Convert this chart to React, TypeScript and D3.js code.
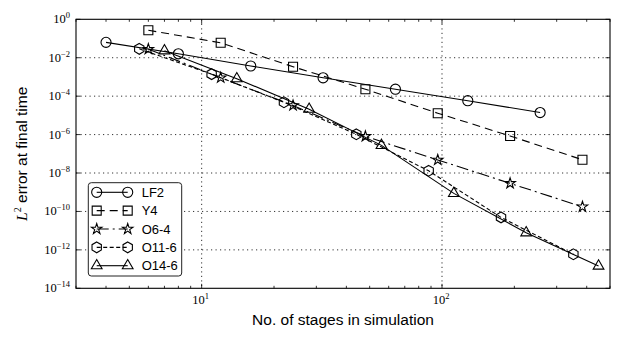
import { useEffect, useRef } from 'react'
import * as d3 from 'd3'

// stages vs. L2 error
const lf2Stages = [4, 8, 16, 32, 64, 128, 256]
const lf2Error = [6.3e-2, 1.6e-2, 3.7e-3, 9.0e-4, 2.3e-4, 5.8e-5, 1.4e-5]

const y4Stages = [6, 12, 24, 48, 96, 192, 384]
const y4Error = [2.7e-1, 6.0e-2, 3.4e-3, 2.3e-4, 1.3e-5, 8.5e-7, 4.9e-8]

const o64Stages = [6, 12, 24, 48, 96, 192, 384]
const o64Error = [2.8e-2, 9.1e-4, 3.3e-5, 8.1e-7, 4.8e-8, 2.9e-9, 1.75e-10]

const o116Stages = [5.5, 11, 22, 44, 88, 176, 352]
const o116Error = [2.9e-2, 1.4e-3, 4.8e-5, 1.03e-6, 1.3e-8, 4.9e-11, 5.9e-13]

const o146Stages = [7, 14, 28, 56, 112, 224, 448]
const o146Error = [2.3e-2, 8.1e-4, 2.1e-5, 2.75e-7, 8.7e-10, 7.8e-12, 1.44e-13]

const seriesNames = ['LF2', 'Y4', 'O6-4', 'O11-6', 'O14-6']
const yTickExponents = [0, -2, -4, -6, -8, -10, -12, -14]
const xTickExponents = [1, 2]

type Pt = { x: number; y: number }

export default function App() {
  const ref = useRef<SVGSVGElement>(null)

  useEffect(() => {
    const svg = d3.select(ref.current)
    svg.selectAll('*').remove()

    const left = 76, right = 610, top = 19.3, bottom = 288.3

    const x = d3.scaleLog().domain([3, 500]).range([left, right])
    const y = d3.scaleLog().domain([1e-14, 1]).range([bottom, top])

    const zip = (xs: number[], ys: number[]): Pt[] => xs.map((v, i) => ({ x: v, y: ys[i] }))

    const hexPath = (r: number) => {
      const pts = d3.range(6).map(i => {
        const a = -Math.PI / 2 + i * Math.PI / 3
        return [r * Math.cos(a), r * Math.sin(a)]
      })
      return 'M' + pts.map(p => p.join(',')).join('L') + 'Z'
    }

    const markers: Record<string, string> = {
      circle: d3.symbol(d3.symbolCircle, 80)()!,
      square: d3.symbol(d3.symbolSquare, 81)()!,
      star: d3.symbol(d3.symbolStar, 34)()!,
      hex: hexPath(5.4),
      triangle: d3.symbol(d3.symbolTriangle, 50)()!,
    }

    const series = [
      { name: seriesNames[0], data: zip(lf2Stages, lf2Error), dash: null, marker: 'circle' },
      { name: seriesNames[1], data: zip(y4Stages, y4Error), dash: '8,5', marker: 'square' },
      { name: seriesNames[2], data: zip(o64Stages, o64Error), dash: '12,4,2,4', marker: 'star' },
      { name: seriesNames[3], data: zip(o116Stages, o116Error), dash: '4,2.5', marker: 'hex' },
      { name: seriesNames[4], data: zip(o146Stages, o146Error), dash: null, marker: 'triangle' },
    ]

    svg.append('rect').attr('width', 624).attr('height', 343).attr('fill', '#fff')

    // grid
    const grid = svg.append('g')
      .attr('stroke', '#333')
      .attr('stroke-width', 1)
      .attr('stroke-dasharray', '1.2,3.3')
    yTickExponents.slice(1, -1).forEach(e => {
      grid.append('line')
        .attr('x1', left).attr('x2', right)
        .attr('y1', y(10 ** e)).attr('y2', y(10 ** e))
    })
    xTickExponents.forEach(e => {
      grid.append('line')
        .attr('x1', x(10 ** e)).attr('x2', x(10 ** e))
        .attr('y1', top).attr('y2', bottom)
    })

    // ticks (inward)
    const ticks = svg.append('g').attr('stroke', '#000').attr('stroke-width', 0.8)
    x.ticks().forEach(t => {
      const major = Math.abs(Math.log10(t) - Math.round(Math.log10(t))) < 1e-9
      const len = major ? 4.5 : 2.5
      ticks.append('line').attr('x1', x(t)).attr('x2', x(t)).attr('y1', bottom).attr('y2', bottom - len)
      ticks.append('line').attr('x1', x(t)).attr('x2', x(t)).attr('y1', top).attr('y2', top + len)
    })
    yTickExponents.forEach(e => {
      ticks.append('line').attr('x1', left).attr('x2', left + 4.5).attr('y1', y(10 ** e)).attr('y2', y(10 ** e))
      ticks.append('line').attr('x1', right).attr('x2', right - 4.5).attr('y1', y(10 ** e)).attr('y2', y(10 ** e))
    })

    // series
    const line = d3.line<Pt>().x(d => x(d.x)).y(d => y(d.y))
    series.forEach(s => {
      const g = svg.append('g')
      g.append('path')
        .attr('d', line(s.data))
        .attr('fill', 'none')
        .attr('stroke', '#000')
        .attr('stroke-width', 1.1)
        .attr('stroke-dasharray', s.dash)
      g.selectAll('path.m')
        .data(s.data)
        .enter().append('path')
        .attr('class', 'm')
        .attr('d', markers[s.marker])
        .attr('transform', d => `translate(${x(d.x)},${y(d.y)})`)
        .attr('fill', 'none')
        .attr('stroke', '#000')
        .attr('stroke-width', 1.1)
    })

    // frame
    svg.append('rect')
      .attr('x', left).attr('y', top)
      .attr('width', right - left).attr('height', bottom - top)
      .attr('fill', 'none').attr('stroke', '#000').attr('stroke-width', 1.1)

    // tick labels
    const serif = '"Liberation Serif", "DejaVu Serif", serif'
    yTickExponents.forEach(e => {
      const t = svg.append('text')
        .attr('x', 70).attr('y', y(10 ** e) + 4)
        .attr('text-anchor', 'end')
        .attr('font-family', serif).attr('font-size', 12.5)
      t.append('tspan').text('10')
      t.append('tspan').attr('dy', -5).attr('font-size', 8.5).text(e === 0 ? '0' : '\u2212' + -e)
    })
    xTickExponents.forEach(e => {
      const t = svg.append('text')
        .attr('x', x(10 ** e) - 1).attr('y', 304)
        .attr('text-anchor', 'middle')
        .attr('font-family', serif).attr('font-size', 12.5)
      t.append('tspan').text('10')
      t.append('tspan').attr('dy', -5).attr('font-size', 8.5).text(String(e))
    })

    // axis titles
    const sans = '"Liberation Sans", Arial, sans-serif'
    svg.append('text')
      .attr('x', 343).attr('y', 325)
      .attr('text-anchor', 'middle')
      .attr('font-family', sans).attr('font-size', 15.5)
      .text('No. of stages in simulation')

    const yl = svg.append('text')
      .attr('transform', `translate(27,${(top + bottom) / 2}) rotate(-90)`)
      .attr('text-anchor', 'middle')
      .attr('font-family', sans).attr('font-size', 15.5)
    yl.append('tspan').attr('font-family', serif).attr('font-style', 'italic').text('L')
    yl.append('tspan').attr('font-family', serif).attr('font-size', 10).attr('dy', -6).text('2')
    yl.append('tspan').attr('dy', 6).text(' error at final time')

    // legend
    const lg = svg.append('g')
    lg.append('rect')
      .attr('x', 88.3).attr('y', 182.7)
      .attr('width', 93.4).attr('height', 93.3)
      .attr('rx', 3)
      .attr('fill', '#fff').attr('stroke', '#222').attr('stroke-width', 1)
    series.forEach((s, i) => {
      const cy = 192.3 + i * 18.35
      lg.append('line')
        .attr('x1', 96.7).attr('x2', 127.7).attr('y1', cy).attr('y2', cy)
        .attr('stroke', '#000').attr('stroke-width', 1.1)
        .attr('stroke-dasharray', s.dash)
      ;[96.7, 127.7].forEach(mx => {
        lg.append('path')
          .attr('d', markers[s.marker])
          .attr('transform', `translate(${mx},${cy})`)
          .attr('fill', 'none').attr('stroke', '#000').attr('stroke-width', 1.1)
      })
      lg.append('text')
        .attr('x', 141.7).attr('y', cy + 4.6)
        .attr('font-family', sans).attr('font-size', 13)
        .text(s.name)
    })
  }, [])

  return (
    <svg ref={ref} width={624} height={343}
      style={{ position: 'absolute', left: 0, top: 0, display: 'block' }} />
  )
}
